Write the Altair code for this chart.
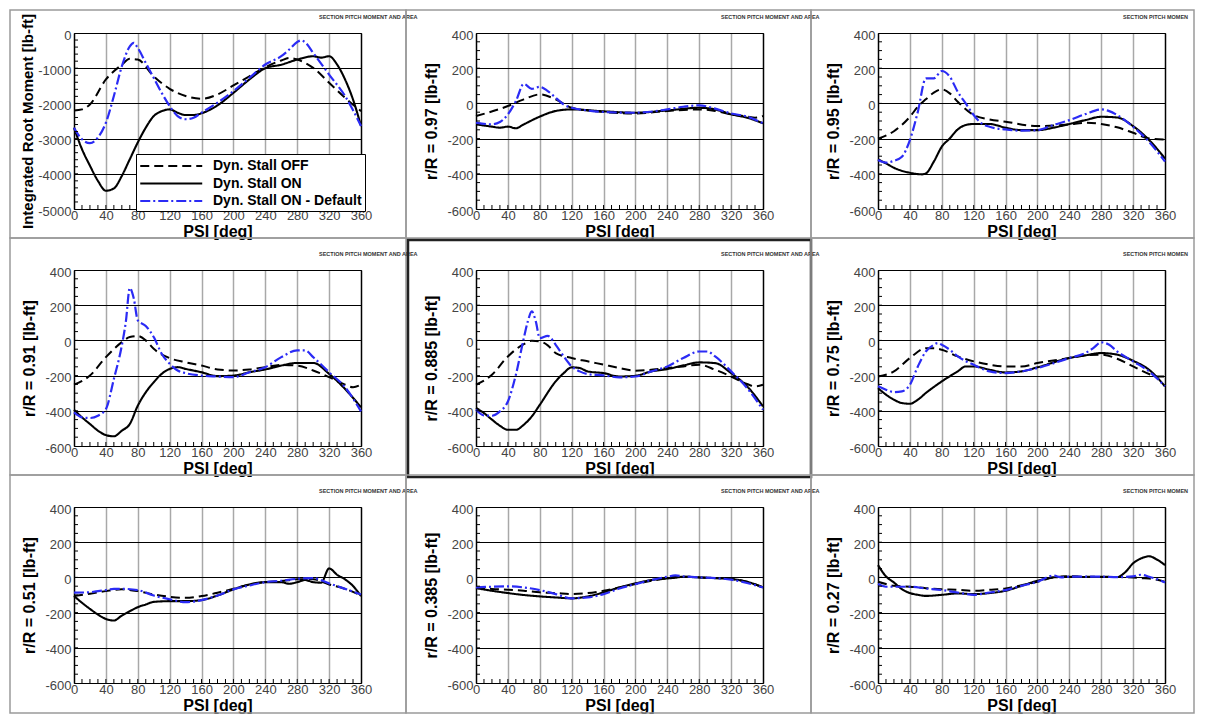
import altair as alt
import pandas as pd

FONT = "Liberation Sans"
W, H = 287, 176

SERIES = ["Dyn. Stall OFF", "Dyn. Stall ON", "Dyn. Stall ON - Default"]
SERIES_COLORS = ["#000000", "#000000", "#2b2bf5"]
SERIES_DASH = [[9, 5], [1, 0], [10, 3, 2, 3]]
SERIES_WIDTH = [2.0, 2.2, 1.6]

PANEL_TITLES = [
    "Integrated Root Moment [lb-ft]", "r/R = 0.97 [lb-ft]", "r/R = 0.95 [lb-ft]",
    "r/R = 0.91 [lb-ft]", "r/R = 0.885 [lb-ft]", "r/R = 0.75 [lb-ft]",
    "r/R = 0.51 [lb-ft]", "r/R = 0.385 [lb-ft]", "r/R = 0.27 [lb-ft]",
]
X_TICKS = [0, 40, 80, 120, 160, 200, 240, 280, 320, 360]
X_MINOR = list(range(10, 360, 10))
Y_TICKS_ROOT = [0, -1000, -2000, -3000, -4000, -5000]
Y_MINOR_ROOT = list(range(-4800, 0, 200))
Y_TICKS_SEC = [400, 200, 0, -200, -400, -600]
Y_MINOR_SEC = list(range(-550, 400, 50))
HEADER_TEXT = "SECTION PITCH MOMENT AND AREA"

# ---- Panel 1: integrated root moment
P1_OFF_PSI = [0, 10, 20, 40, 60, 70, 80, 100, 120, 140, 160, 180, 200, 220, 240, 260, 270, 280, 300, 320, 340, 360]
P1_OFF_VAL = [-2200, -2170, -2030, -1320, -900, -735, -755, -1230, -1585, -1790, -1870, -1745, -1490, -1230, -970, -780, -710, -755, -990, -1415, -1840, -2220]
P1_ON_PSI = [0, 10, 20, 30, 40, 50, 60, 70, 80, 90, 100, 110, 120, 130, 140, 150, 160, 180, 200, 220, 240, 260, 280, 300, 310, 320, 330, 340, 350, 360]
P1_ON_VAL = [-2690, -3300, -3770, -4200, -4480, -4415, -4060, -3585, -3110, -2690, -2360, -2220, -2170, -2265, -2330, -2330, -2280, -2055, -1700, -1320, -1000, -900, -755, -660, -700, -660, -895, -1320, -1890, -2640]
P1_DEF_PSI = [0, 10, 20, 30, 40, 50, 60, 70, 75, 80, 90, 100, 110, 120, 130, 140, 150, 160, 180, 200, 220, 240, 260, 270, 280, 285, 290, 300, 320, 340, 360]
P1_DEF_VAL = [-2690, -3020, -3130, -2970, -2550, -1790, -945, -380, -280, -425, -850, -1275, -1700, -2075, -2360, -2450, -2405, -2265, -1980, -1650, -1275, -895, -660, -470, -255, -210, -265, -565, -1180, -1790, -2640]

# ---- Panel 2: r/R = 0.97
P2_OFF_PSI = [0, 40, 60, 80, 100, 120, 160, 200, 240, 280, 300, 320, 340, 350, 360]
P2_OFF_VAL = [-72, -15, 23, 51, 23, -25, -49, -57, -43, -34, -43, -62, -75, -81, -72]
P2_ON_PSI = [0, 20, 30, 40, 50, 60, 80, 100, 120, 160, 200, 240, 280, 300, 320, 340, 360]
P2_ON_VAL = [-119, -132, -138, -132, -141, -119, -75, -43, -34, -45, -53, -40, -25, -34, -62, -81, -113]
P2_DEF_PSI = [0, 20, 30, 40, 50, 60, 70, 80, 90, 100, 110, 120, 140, 160, 200, 240, 260, 280, 300, 320, 340, 360]
P2_DEF_VAL = [-109, -119, -106, -62, 13, 111, 83, 94, 70, 32, -6, -25, -40, -49, -53, -34, -19, -11, -30, -57, -75, -113]

# ---- Panel 3: r/R = 0.95
P3_OFF_PSI = [0, 20, 40, 50, 60, 70, 80, 90, 100, 120, 140, 160, 200, 240, 260, 280, 300, 320, 340, 360]
P3_OFF_VAL = [-200, -158, -76, -19, 23, 61, 80, 57, 9, -66, -91, -104, -129, -119, -110, -117, -136, -167, -199, -205]
P3_ON_PSI = [0, 10, 20, 40, 55, 60, 70, 80, 90, 100, 110, 120, 140, 160, 180, 200, 220, 240, 260, 280, 300, 320, 340, 360]
P3_ON_VAL = [-318, -341, -366, -394, -403, -398, -331, -246, -199, -148, -123, -117, -117, -138, -152, -152, -138, -117, -95, -76, -80, -129, -208, -313]
P3_DEF_PSI = [0, 10, 20, 30, 40, 50, 60, 70, 80, 90, 100, 110, 120, 130, 140, 160, 180, 200, 220, 240, 260, 280, 290, 300, 320, 340, 360]
P3_DEF_VAL = [-322, -337, -326, -303, -208, -47, 142, 142, 184, 152, 66, 0, -66, -114, -133, -148, -155, -152, -123, -95, -61, -34, -44, -66, -133, -218, -331]

# ---- Panel 4: r/R = 0.91
P4_OFF_PSI = [0, 20, 40, 60, 70, 80, 90, 100, 120, 140, 160, 180, 200, 220, 240, 260, 280, 300, 320, 340, 350, 360]
P4_OFF_VAL = [-251, -200, -95, -10, 19, 25, 0, -48, -101, -124, -143, -165, -171, -165, -152, -139, -143, -171, -209, -251, -266, -251]
P4_ON_PSI = [0, 10, 20, 30, 40, 50, 60, 70, 80, 90, 100, 110, 120, 130, 140, 160, 180, 200, 220, 240, 260, 280, 300, 320, 340, 360]
P4_ON_VAL = [-394, -437, -475, -513, -538, -545, -513, -475, -371, -295, -238, -190, -162, -152, -162, -181, -203, -200, -181, -165, -143, -128, -128, -190, -276, -380]
P4_DEF_PSI = [0, 10, 20, 30, 40, 50, 60, 65, 70, 75, 80, 90, 100, 110, 120, 130, 140, 160, 180, 200, 220, 240, 260, 280, 290, 300, 320, 340, 360]
P4_DEF_VAL = [-409, -437, -441, -428, -390, -219, -29, 105, 298, 238, 114, 82, 19, -76, -133, -171, -186, -200, -205, -209, -181, -152, -95, -57, -57, -95, -181, -266, -403]

# ---- Panel 5: r/R = 0.885
P5_OFF_PSI = [0, 20, 40, 60, 70, 80, 90, 100, 120, 140, 160, 180, 200, 240, 260, 280, 300, 320, 340, 350, 360]
P5_OFF_VAL = [-252, -195, -91, -21, -2, -6, -28, -72, -100, -119, -138, -157, -172, -157, -148, -138, -167, -205, -248, -261, -252]
P5_ON_PSI = [0, 10, 20, 30, 40, 50, 60, 70, 80, 100, 110, 120, 130, 140, 160, 180, 200, 220, 240, 260, 280, 300, 320, 340, 360]
P5_ON_VAL = [-384, -413, -450, -485, -508, -508, -479, -432, -366, -233, -186, -153, -157, -176, -186, -205, -201, -176, -163, -142, -125, -129, -186, -261, -375]
P5_DEF_PSI = [0, 10, 20, 30, 40, 50, 60, 65, 70, 75, 80, 90, 100, 110, 120, 130, 140, 160, 180, 200, 220, 240, 260, 280, 290, 300, 320, 340, 360]
P5_DEF_VAL = [-394, -426, -428, -403, -347, -195, 13, 108, 165, 108, 13, 26, -25, -91, -148, -176, -191, -199, -210, -205, -176, -148, -100, -63, -63, -91, -176, -271, -394]

# ---- Panel 6: r/R = 0.75
P6_OFF_PSI = [0, 20, 40, 60, 70, 80, 100, 120, 140, 160, 180, 200, 240, 260, 280, 300, 320, 340, 350, 360]
P6_OFF_VAL = [-205, -176, -100, -44, -44, -53, -91, -119, -138, -148, -148, -129, -100, -85, -81, -104, -148, -191, -205, -205]
P6_ON_PSI = [0, 10, 20, 30, 40, 50, 60, 80, 100, 110, 120, 140, 160, 180, 200, 240, 260, 280, 300, 320, 340, 360]
P6_ON_VAL = [-271, -308, -337, -356, -360, -337, -299, -233, -176, -148, -148, -167, -182, -176, -153, -100, -85, -72, -81, -116, -167, -261]
P6_DEF_PSI = [0, 10, 20, 30, 40, 50, 60, 70, 75, 80, 90, 100, 120, 140, 160, 180, 200, 240, 260, 270, 280, 290, 300, 320, 340, 360]
P6_DEF_VAL = [-261, -280, -294, -290, -252, -148, -63, -25, -15, -25, -53, -91, -138, -176, -186, -176, -157, -100, -72, -44, -11, -25, -63, -119, -176, -261]

# ---- Panel 7: r/R = 0.51
P7_OFF_PSI = [0, 20, 40, 60, 80, 100, 120, 140, 160, 180, 200, 220, 240, 260, 280, 300, 320, 340, 360]
P7_OFF_VAL = [-106, -93, -78, -68, -78, -97, -110, -116, -106, -87, -65, -40, -27, -21, -11, -11, -40, -65, -103]
P7_ON_PSI = [0, 10, 20, 30, 40, 50, 60, 70, 80, 90, 100, 120, 140, 160, 180, 200, 220, 240, 260, 270, 280, 290, 300, 310, 320, 330, 340, 350, 360]
P7_ON_VAL = [-106, -144, -179, -211, -236, -245, -217, -192, -169, -154, -139, -135, -135, -129, -103, -68, -40, -27, -27, -36, -27, -15, -27, -30, 51, 15, -11, -49, -106]
P7_DEF_PSI = [0, 20, 40, 50, 60, 80, 100, 120, 140, 160, 180, 200, 220, 240, 260, 280, 300, 320, 340, 360]
P7_DEF_VAL = [-87, -84, -72, -65, -65, -72, -103, -124, -141, -129, -103, -68, -46, -27, -19, -8, -4, -34, -65, -97]

# ---- Panel 8: r/R = 0.385
P8_OFF_PSI = [0, 20, 40, 60, 80, 100, 120, 140, 160, 180, 200, 220, 240, 250, 260, 280, 300, 320, 340, 360]
P8_OFF_VAL = [-57, -66, -70, -76, -85, -89, -95, -89, -76, -57, -38, -19, -4, 6, 4, 0, -4, -9, -25, -57]
P8_ON_PSI = [0, 20, 40, 60, 80, 100, 120, 140, 160, 180, 200, 220, 240, 250, 260, 280, 300, 320, 340, 360]
P8_ON_VAL = [-61, -76, -89, -100, -108, -114, -119, -108, -85, -57, -34, -15, -6, -2, 4, 0, -4, -9, -25, -57]
P8_DEF_PSI = [0, 20, 40, 60, 80, 100, 120, 140, 160, 180, 200, 220, 240, 250, 260, 280, 300, 320, 340, 360]
P8_DEF_VAL = [-57, -53, -51, -57, -72, -95, -119, -114, -95, -63, -38, -15, 4, 11, 6, 0, -4, -13, -32, -57]

# ---- Panel 9: r/R = 0.27
P9_OFF_PSI = [0, 10, 20, 40, 60, 80, 100, 120, 140, 160, 180, 200, 220, 240, 260, 280, 300, 320, 330, 340, 360]
P9_OFF_VAL = [-25, -38, -48, -53, -61, -67, -70, -76, -70, -63, -44, -25, 0, 6, 4, 4, 2, 0, -4, -6, -25]
P9_ON_PSI = [0, 10, 20, 30, 40, 50, 60, 80, 100, 120, 140, 160, 180, 200, 220, 240, 260, 280, 300, 310, 320, 330, 340, 350, 360]
P9_ON_VAL = [70, 6, -29, -67, -89, -99, -105, -99, -91, -95, -89, -76, -48, -19, 0, 4, 2, 2, 2, 29, 80, 108, 120, 101, 70]
P9_DEF_PSI = [0, 10, 20, 40, 60, 80, 100, 120, 140, 160, 180, 200, 220, 230, 240, 260, 280, 300, 320, 330, 340, 350, 360]
P9_DEF_VAL = [-38, -53, -53, -53, -63, -72, -86, -99, -86, -72, -48, -25, 10, 0, 4, 4, 4, 2, 6, 15, 4, -10, -29]

PANEL_DATA = [
    [(P1_OFF_PSI, P1_OFF_VAL), (P1_ON_PSI, P1_ON_VAL), (P1_DEF_PSI, P1_DEF_VAL)],
    [(P2_OFF_PSI, P2_OFF_VAL), (P2_ON_PSI, P2_ON_VAL), (P2_DEF_PSI, P2_DEF_VAL)],
    [(P3_OFF_PSI, P3_OFF_VAL), (P3_ON_PSI, P3_ON_VAL), (P3_DEF_PSI, P3_DEF_VAL)],
    [(P4_OFF_PSI, P4_OFF_VAL), (P4_ON_PSI, P4_ON_VAL), (P4_DEF_PSI, P4_DEF_VAL)],
    [(P5_OFF_PSI, P5_OFF_VAL), (P5_ON_PSI, P5_ON_VAL), (P5_DEF_PSI, P5_DEF_VAL)],
    [(P6_OFF_PSI, P6_OFF_VAL), (P6_ON_PSI, P6_ON_VAL), (P6_DEF_PSI, P6_DEF_VAL)],
    [(P7_OFF_PSI, P7_OFF_VAL), (P7_ON_PSI, P7_ON_VAL), (P7_DEF_PSI, P7_DEF_VAL)],
    [(P8_OFF_PSI, P8_OFF_VAL), (P8_ON_PSI, P8_ON_VAL), (P8_DEF_PSI, P8_DEF_VAL)],
    [(P9_OFF_PSI, P9_OFF_VAL), (P9_ON_PSI, P9_ON_VAL), (P9_DEF_PSI, P9_DEF_VAL)],
]

# decorative panel frames (pixel offsets relative to each plot area)
COL_BOX = [(-64, 332), (-70, 335), (-67, 316)]
ROW_BOX = [(-23, 205), (-32, 205), (-32, 206)]


def make_panel(i):
    row, col = divmod(i, 3)
    root = i == 0
    yticks = Y_TICKS_ROOT if root else Y_TICKS_SEC
    yminor = Y_MINOR_ROOT if root else Y_MINOR_SEC
    ydomain = [-5000, 0] if root else [-600, 400]

    frames = []
    for name, (psi, val) in zip(SERIES, PANEL_DATA[i]):
        frames.append(pd.DataFrame({"psi": psi, "val": val, "series": name}))
    df = pd.concat(frames, ignore_index=True)

    xscale = alt.Scale(domain=[0, 360], nice=False, zero=False)
    yscale = alt.Scale(domain=ydomain, nice=False, zero=False)
    xaxis = alt.Axis(
        values=X_TICKS, title="PSI [deg]", grid=True,
        gridColor={"condition": {"test": "datum.value <= 0 || datum.value >= 360", "value": "black"},
                   "value": "#a8a8a8"},
        gridWidth=1.5, ticks=False, domain=False, labelFlush=False, labelOverlap=False,
        labelFont=FONT, labelFontSize=13, labelColor="#444", labelPadding=0,
        titleFont=FONT, titleFontSize=16, titleFontWeight="bold", titleColor="black",
        titleY=14, titleBaseline="top",
    )
    yaxis = alt.Axis(
        values=yticks, title=PANEL_TITLES[i], grid=True, gridColor="black", gridWidth=1,
        ticks=False, domain=False, labelFlush=False, labelOverlap=False,
        labelExpr="datum.value + ''", labelOffset=2,
        labelFont=FONT, labelFontSize=13, labelColor="#444", labelPadding=3,
        titleFont=FONT, titleFontSize=15 if root else 16, titleFontWeight="bold", titleColor="black",
        titleX=-42 if root else -40, titleY=H / 2, titleBaseline="alphabetic",
        titleAlign="center", titleAngle=270,
    )
    X = alt.X("psi:Q", scale=xscale, axis=xaxis)
    Y = alt.Y("val:Q", scale=yscale, axis=yaxis)

    if root:
        leg = alt.Legend(
            orient="none", legendX=62, legendY=121, title=None,
            fillColor="white", strokeColor="black", padding=3,
            symbolType="M-1,0L7,0", symbolSize=240, symbolStrokeWidth=2.2,
            labelFont=FONT, labelFontSize=14, labelFontWeight="bold", labelColor="black",
            labelOffset=56, rowPadding=1.5, labelLimit=400,
        )
    else:
        leg = None

    lines = alt.Chart(df).mark_line(interpolate="monotone").encode(
        x=X, y=Y,
        color=alt.Color("series:N", sort=SERIES,
                        scale=alt.Scale(domain=SERIES, range=SERIES_COLORS), legend=leg),
        strokeDash=alt.StrokeDash("series:N", sort=SERIES,
                                  scale=alt.Scale(domain=SERIES, range=SERIES_DASH), legend=leg),
        strokeWidth=alt.StrokeWidth("series:N", sort=SERIES,
                                    scale=alt.Scale(domain=SERIES, range=SERIES_WIDTH), legend=None),
    )

    ytick_marks = alt.Chart(pd.DataFrame({"val": yminor})).mark_rule(
        color="black", strokeWidth=1
    ).encode(y=Y, x=alt.value(0), x2=alt.value(4))

    xtick_marks = alt.Chart(pd.DataFrame({"psi": X_MINOR})).mark_rule(
        color="black", strokeWidth=1
    ).encode(x=X, y=alt.value(H), y2=alt.value(H - 4))

    x0, x1 = COL_BOX[col]
    y0, y1 = ROW_BOX[row]
    center = (row == 1 and col == 1)
    frame = alt.Chart(pd.DataFrame({"k": [0]})).mark_rect(
        filled=False, stroke="#222222" if center else "#9a9a9a",
        strokeWidth=2.5 if center else 1.5,
    ).encode(x=alt.value(x0 + (2 if center else 0)), x2=alt.value(x1),
             y=alt.value(y0 + (2 if center else 0)), y2=alt.value(y1 + (2 if center else 0)))

    header = alt.Chart(pd.DataFrame({"k": [0]})).mark_text(
        text=HEADER_TEXT, fontSize=5.5, font=FONT, fontWeight="bold", color="#333",
        align="left", baseline="middle", limit=68 if col == 2 else 200, ellipsis=" ",
    ).encode(x=alt.value(245), y=alt.value(-16))

    return alt.layer(frame, header, lines, ytick_marks, xtick_marks).properties(width=W, height=H)


panels = [make_panel(i) for i in range(9)]

chart = alt.concat(
    *panels, columns=3, spacing={"row": 61, "column": 115}, bounds="flush"
).resolve_scale(
    color="independent", strokeDash="independent", strokeWidth="independent"
).resolve_legend(
    color="independent", strokeDash="independent", strokeWidth="independent"
).properties(
    padding=0, background="white"
).configure_view(
    stroke="black", strokeWidth=1
)

chart.save("out.html", embed_options={"renderer": "svg", "actions": False})
